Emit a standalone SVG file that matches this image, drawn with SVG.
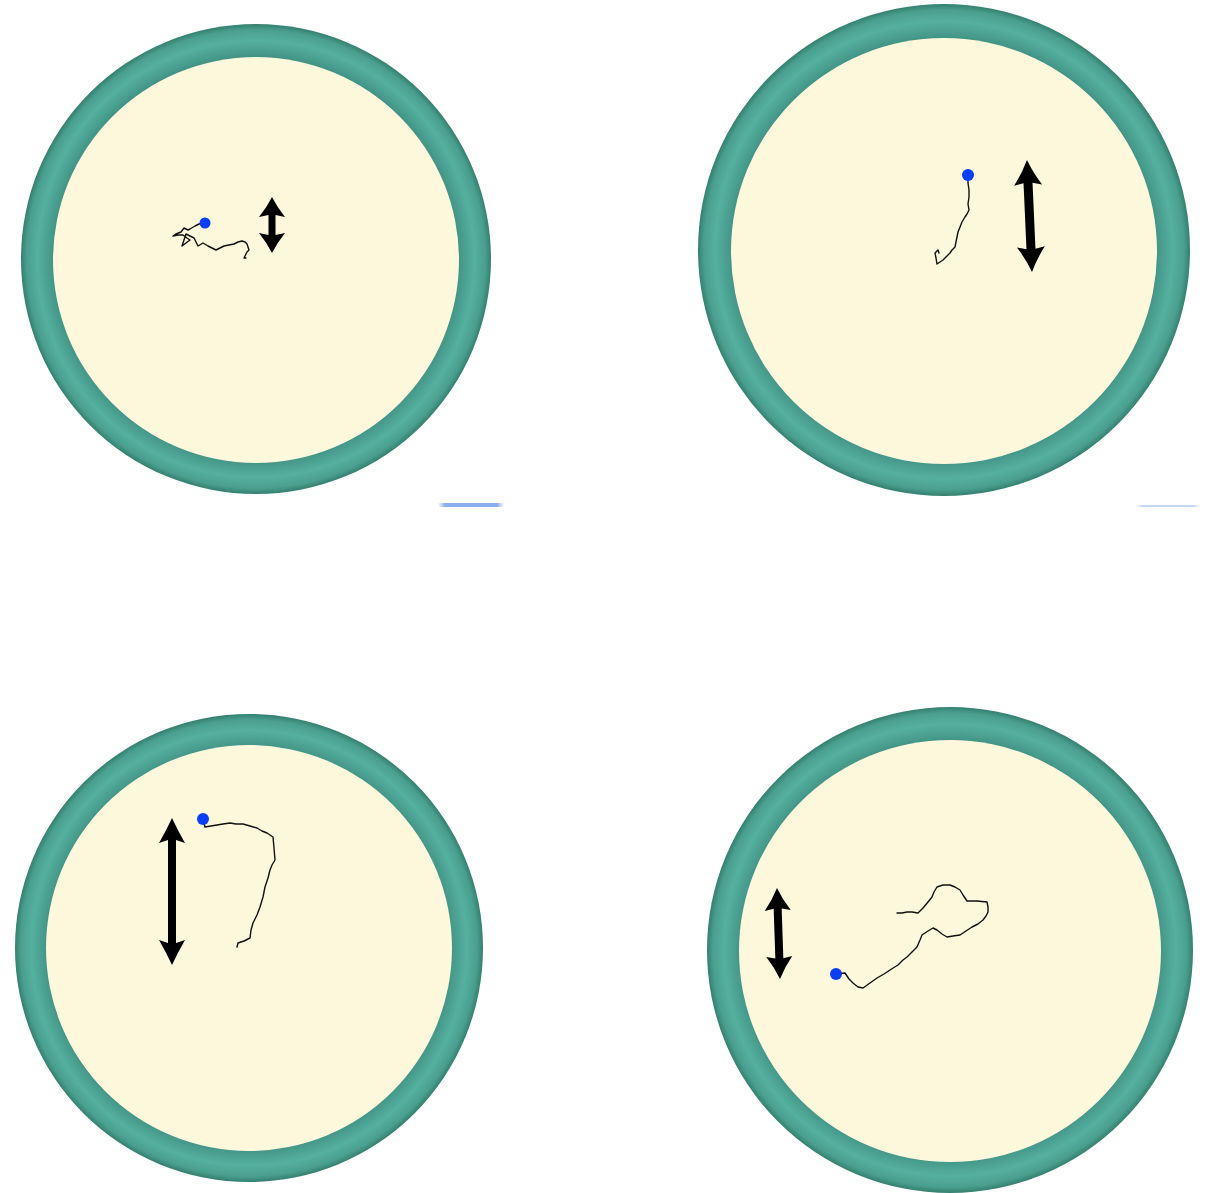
<svg xmlns="http://www.w3.org/2000/svg" width="1209" height="1193" viewBox="0 0 1209 1193">
<style>
.cream{fill:#fdf7dc}
.rim{fill:url(#rimg)}
.track{fill:none;stroke:#111;stroke-width:1.4;stroke-linejoin:round;stroke-linecap:round}
.dot{fill:#0a3ef5}
.arrow{fill:#000}
</style>
<defs>
<radialGradient id="rimg" cx="0.5" cy="0.5" r="0.5">
<stop offset="0.85" stop-color="#3c8e80"/>
<stop offset="0.875" stop-color="#469a8b"/>
<stop offset="0.93" stop-color="#56b09f"/>
<stop offset="0.975" stop-color="#4a9f8f"/>
<stop offset="1" stop-color="#34806f"/>
</radialGradient>
<linearGradient id="blueline" x1="0" y1="0" x2="1" y2="0">
<stop offset="0" stop-color="#6e9ee6" stop-opacity="0"/>
<stop offset="0.1" stop-color="#6e9ee6" stop-opacity="1"/>
<stop offset="0.9" stop-color="#6e9ee6" stop-opacity="1"/>
<stop offset="1" stop-color="#6e9ee6" stop-opacity="0"/>
</linearGradient>
</defs>
<rect width="1209" height="1193" fill="#fff"/>

<g id="dish1">
<circle class="rim" cx="256" cy="259" r="235"/>
<circle class="cream" cx="256" cy="260" r="203"/>
<polyline class="track" points="205,223 199,224 195,226 190,229 188,230 184,228 181,232 176,234 173,236 178,235 183,235 187,238 190,240 186,243 182,246 184,240 186,234 190,236 194,238 196,242 198,246 203,243 208,246 212,248 216,250 220,248 224,246 229,245 234,244 238,242 242,241 245,242 247,244 248,247 249,250 247,252 246,254 245,256 244,258 246,258"/>
<circle class="dot" cx="205" cy="223" r="5.5"/>
<path class="arrow" d="M272,197 Q277,207 285,217 L275.5,215 L275.5,235 L285,233 Q277,243 272,253 Q267,243 259,233 L268.5,235 L268.5,215 L259,217 Q267,207 272,197 Z"/>
</g>

<g id="dish2">
<circle class="rim" cx="944" cy="250" r="246"/>
<circle class="cream" cx="944" cy="251" r="213"/>
<polyline class="track" points="968,175 968,183 969,190 969,197 968,204 969,210 967,214 965,217 962,222 960,227 958,232 957,237 956,242 955,247 952,250 950,253 946,257 943,260 940,262 937,264 936,258 935,253 938,250 939,253"/>
<circle class="dot" cx="968" cy="175" r="6"/>
<path class="arrow" transform="translate(1029.5,216) rotate(-2.56)" d="M0,-56 Q6,-42 14,-31 L4.5,-33 L4.5,33 L14,31 Q6,42 0,56 Q-6,42 -14,31 L-4.5,33 L-4.5,-33 L-14,-31 Q-6,-42 0,-56 Z"/>
</g>

<g id="dish3">
<circle class="rim" cx="249" cy="948" r="234"/>
<circle class="cream" cx="249" cy="948" r="203"/>
<polyline class="track" points="203,819 205,827 211,826 217,825 223,824 230,823 236,824 243,824 250,826 257,828 262,831 267,833 273,837 274,848 275,860 272,865 270,870 268,878 265,887 263,897 260,907 257,915 253,923 251,930 250,938 244,941 238,943 237,947"/>
<circle class="dot" cx="203" cy="819" r="6"/>
<path class="arrow" d="M172,818 Q178,831 185,843 L176,840 L176,943 L185,940 Q178,952 172,965 Q166,952 159,940 L168,943 L168,840 L159,843 Q166,831 172,818 Z"/>
</g>

<g id="dish4">
<circle class="rim" cx="950" cy="950" r="243"/>
<circle class="cream" cx="950" cy="951" r="211"/>
<polyline class="track" points="836,974 845,973 849,979 853,983 858,987 863,988 870,983 877,978 884,974 890,970 898,965 903,960 907,957 912,952 917,947 920,940 922,935 928,931 933,928 937,930 942,934 947,937 953,936 960,935 966,931 972,927 978,924 983,920 986,916 988,912 988,907 987,902 977,901 967,901 963,895 960,890 955,887 950,885 943,885 937,887 934,892 932,897 928,902 923,908 918,913 912,912 907,912 902,913 897,913"/>
<circle class="dot" cx="836" cy="974" r="6"/>
<path class="arrow" transform="translate(778.5,933.5) rotate(-1.9)" d="M0,-45.5 Q5,-34 13,-23 L4,-25 L4,25 L13,23 Q5,34 0,45.5 Q-5,34 -13,23 L-4,25 L-4,-25 L-13,-23 Q-5,-34 0,-45.5 Z"/>
</g>

<rect x="438" y="503" width="66" height="4" fill="url(#blueline)" opacity="0.8"/>
<rect x="1136" y="505" width="64" height="2" fill="url(#blueline)" opacity="0.4"/>
</svg>
